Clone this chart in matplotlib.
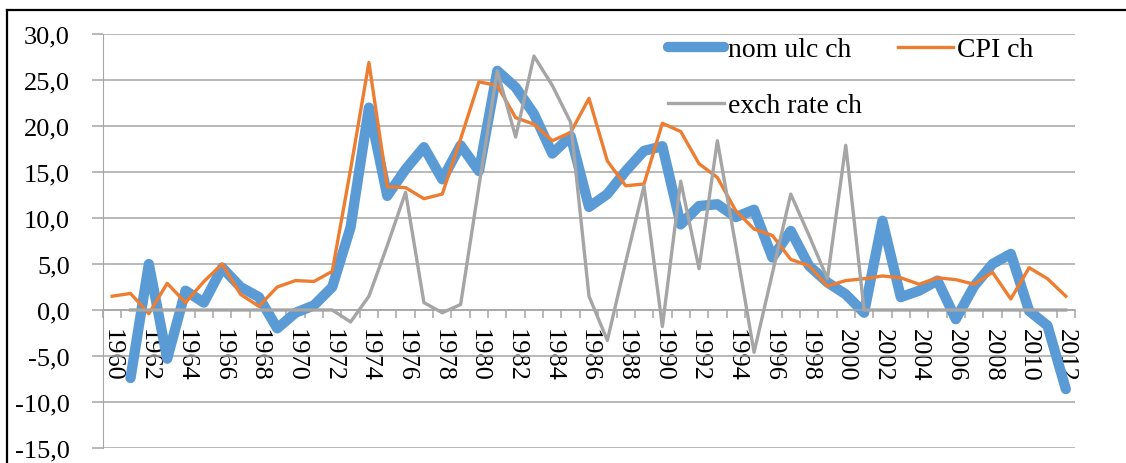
import matplotlib
matplotlib.use("Agg")
import matplotlib.pyplot as plt
import numpy as np
from matplotlib.lines import Line2D
from matplotlib.ticker import FixedLocator, FuncFormatter

plt.rcParams["font.family"] = ["Liberation Serif", "DejaVu Serif"]

years = list(range(1960, 2013))

nom_ulc = [np.nan, -7.4, 5.0, -5.3, 2.1, 0.8, 4.6, 2.5, 1.4, -2.0,
           -0.3, 0.5, 2.5, 9.0, 22.0, 12.4, 15.3, 17.7, 14.2, 17.9,
           15.1, 26.0, 24.2, 21.3, 17.0, 18.9, 11.2, 12.6, 15.1, 17.3,
           17.8, 9.3, 11.3, 11.5, 10.1, 10.9, 5.7, 8.6, 4.8, 3.0,
           1.7, -0.3, 9.7, 1.4, 2.1, 3.2, -1.0, 2.6, 5.0, 6.1,
           -0.1, -1.7, -8.6]

cpi = [1.5, 1.8, -0.4, 2.9, 0.8, 3.1, 5.0, 1.7, 0.4, 2.5,
       3.2, 3.1, 4.2, 15.3, 26.9, 13.4, 13.3, 12.1, 12.6, 18.6,
       24.8, 24.4, 20.9, 20.2, 18.4, 19.3, 23.0, 16.2, 13.5, 13.7,
       20.3, 19.4, 15.9, 14.4, 10.8, 8.8, 8.1, 5.5, 4.8, 2.6,
       3.2, 3.4, 3.7, 3.5, 2.8, 3.5, 3.3, 2.8, 4.1, 1.2,
       4.6, 3.4, 1.5]

exch = [np.nan, 0, 0, 0, 0, 0, 0, 0, 0, 0,
        0, 0, 0, -1.3, 1.5, 7.0, 12.8, 0.8, -0.3, 0.6,
        13.5, 26.0, 18.8, 27.6, 24.4, 20.4, 1.5, -3.3, 5.2, 13.5,
        -1.8, 14.0, 4.5, 18.4, 7.0, -4.6, 4.0, 12.6, 8.1, 3.4,
        17.9, 0, 0, 0, 0, 0, 0, 0, 0, 0,
        0, 0, 0]

W, H = 1126, 464
fig = plt.figure(figsize=(W / 100, H / 100), dpi=100)
ax = fig.add_axes([103 / W, 15 / H, 972 / W, 414 / H])

x = np.arange(len(years))
grid_c = "#a6a6a6"

l_ulc, = ax.plot(x, nom_ulc, color="#5b9bd5", lw=7.4, label="nom ulc ch",
                 solid_capstyle="round", solid_joinstyle="round")
l_cpi, = ax.plot(x, cpi, color="#ed7d31", lw=2.4, label="CPI ch",
                 solid_joinstyle="round")
l_exch, = ax.plot(x, exch, color="#a5a5a5", lw=2.4, label="exch rate ch",
                  solid_joinstyle="round")

ax.set_xlim(-0.5, len(years) - 0.5)
ax.set_ylim(-15, 30)
ax.set_yticks(np.arange(-15, 31, 5))
ax.yaxis.set_major_formatter(FuncFormatter(lambda v, p: f"{v:.1f}".replace(".", ",")))
ax.yaxis.grid(True, color=grid_c, lw=1.1)
ax.set_axisbelow(True)

# category boundaries carry the tick marks, even years carry the labels
ax.xaxis.set_major_locator(FixedLocator(np.arange(-0.5, len(years), 1.0)))
ax.xaxis.set_major_formatter(FuncFormatter(lambda v, p: ""))
ax.xaxis.set_minor_locator(FixedLocator(x[::2]))
ax.xaxis.set_minor_formatter(FuncFormatter(lambda v, p: str(years[int(round(v))])))

ax.spines["top"].set_visible(False)
ax.spines["right"].set_visible(False)
ax.spines["left"].set_color(grid_c)
ax.spines["bottom"].set_color(grid_c)
ax.spines["bottom"].set_linewidth(1.1)
ax.spines["bottom"].set_position(("data", 0))

ax.tick_params(axis="x", which="major", length=6, color=grid_c, width=1.1)
ax.tick_params(axis="x", which="minor", length=0, pad=13, labelsize=19,
               labelrotation=-90)
ax.tick_params(axis="y", length=8, color=grid_c, width=1.1, pad=16, labelsize=19)

ax.legend(handles=[l_ulc, l_exch, l_cpi], ncol=2, loc="upper left",
          bbox_to_anchor=(668 / W, 1 - 38 / H), bbox_transform=fig.transFigure,
          frameon=False, borderpad=0, borderaxespad=0, handlelength=2.0,
          handletextpad=0.15, columnspacing=1.3, labelspacing=1.1,
          prop={"size": 20})

# outer frame (top and left edges only, as in the source)
fig.add_artist(Line2D([7 / W, 1], [1 - 11 / H] * 2, transform=fig.transFigure,
                      color="black", lw=1.6))
fig.add_artist(Line2D([7 / W] * 2, [0, 1 - 11 / H], transform=fig.transFigure,
                      color="black", lw=1.6))

fig.savefig("out.png", dpi=100)
